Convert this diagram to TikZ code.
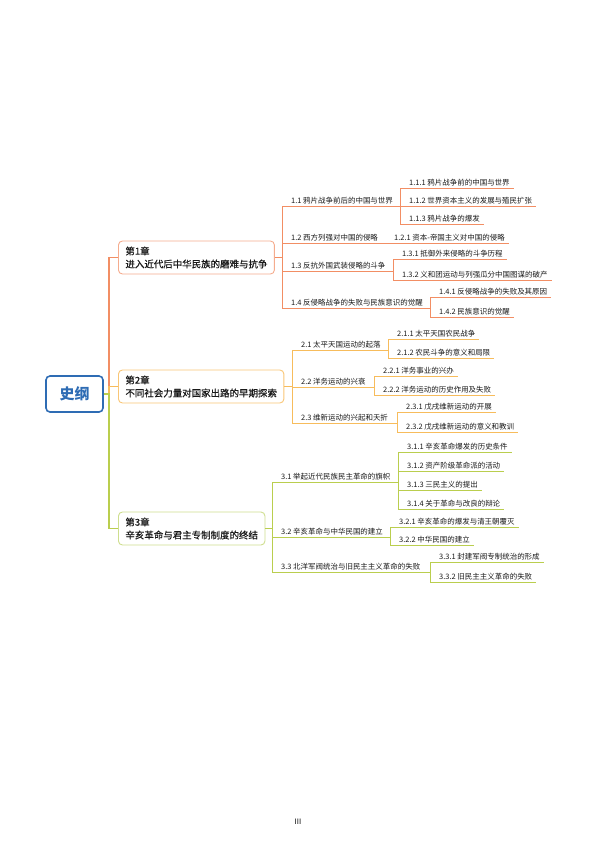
\documentclass[tikz,border=0pt]{standalone}
\usepackage{fontspec}
\setmainfont{Noto Sans CJK SC}
\newfontfamily\chapfont[FakeBold=0.6]{Noto Sans CJK SC}
\usetikzlibrary{positioning}

\definecolor{rootblue}{RGB}{46,108,180}
\definecolor{ch1line}{RGB}{242,142,100}
\definecolor{ch1box}{RGB}{245,172,142}
\definecolor{ch2line}{RGB}{247,188,92}
\definecolor{ch2box}{RGB}{249,198,118}
\definecolor{ch3line}{RGB}{186,206,78}
\definecolor{ch3box}{RGB}{206,222,142}

\begin{document}
\begin{tikzpicture}[
    x=1bp, y=-1bp,
    font=\fontsize{7.5}{9}\selectfont,
    % Node styles
    root/.style={draw=rootblue, line width=1.6bp, rounded corners=4bp, minimum width=57bp, minimum height=36bp, text=rootblue, font=\fontsize{15}{18}\selectfont\bfseries},
    chapter/.style={draw, line width=0.9bp, rounded corners=4bp, fill=white, align=left, anchor=west, inner xsep=7bp, minimum height=33bp, text=black!90, font=\fontsize{9.5}{13}\chapfont},
    topic/.style={anchor=south west, xshift=5bp, inner xsep=4bp, inner ysep=2bp, text=black!90},
    trunk/.style={line width=1.8bp},
    branch/.style={line width=1bp},
    twig/.style={line width=0.8bp},
]
    \useasboundingbox (0,0) rectangle (596,842);

    % Root and chapters
    \node[root] (root) at (74.5,394) {史纲};
    \node[chapter, draw=ch1box] (ch1) at (118,257.5) {第1章\\进入近代后中华民族的磨难与抗争};
    \node[chapter, draw=ch2box] (ch2) at (118,386.5) {第2章\\不同社会力量对国家出路的早期探索};
    \node[chapter, draw=ch3box] (ch3) at (118,528.5) {第3章\\辛亥革命与君主专制制度的终结};

    % Vertical lines (x only)
    \coordinate (t0) at (109,394);
    \coordinate (b1) at (282,0);
    \coordinate (b11) at (400,0);
    \coordinate (b12) at (385,0);
    \coordinate (b13) at (393,0);
    \coordinate (b14) at (430,0);
    \coordinate (b2) at (292,0);
    \coordinate (b21) at (388,0);
    \coordinate (b22) at (374,0);
    \coordinate (b23) at (397,0);
    \coordinate (b3) at (272,0);
    \coordinate (b31) at (398,0);
    \coordinate (b32) at (390,0);
    \coordinate (b33) at (430,0);

    % Chapter 1
    \node[topic] (s11) at (282,206) {1.1 鸦片战争前后的中国与世界};
    \node[topic] (s12) at (282,243) {1.2 西方列强对中国的侵略};
    \node[topic] (s13) at (282,271) {1.3 反抗外国武装侵略的斗争};
    \node[topic] (s14) at (282,308) {1.4 反侵略战争的失败与民族意识的觉醒};
    \node[topic] (l111) at (400,188) {1.1.1 鸦片战争前的中国与世界};
    \node[topic] (l112) at (400,206) {1.1.2 世界资本主义的发展与殖民扩张};
    \node[topic] (l113) at (400,224) {1.1.3 鸦片战争的爆发};
    \node[topic] (l121) at (385,243) {1.2.1 资本-帝国主义对中国的侵略};
    \node[topic] (l131) at (393,259) {1.3.1 抵御外来侵略的斗争历程};
    \node[topic] (l132) at (393,280) {1.3.2 义和团运动与列强瓜分中国图谋的破产};
    \node[topic] (l141) at (430,297) {1.4.1 反侵略战争的失败及其原因};
    \node[topic] (l142) at (430,317) {1.4.2 民族意识的觉醒};

    % Chapter 2
    \node[topic] (s21) at (292,350) {2.1 太平天国运动的起落};
    \node[topic] (s22) at (292,387) {2.2 洋务运动的兴衰};
    \node[topic] (s23) at (292,423) {2.3 维新运动的兴起和夭折};
    \node[topic] (l211) at (388,339) {2.1.1 太平天国农民战争};
    \node[topic] (l212) at (388,358) {2.1.2 农民斗争的意义和局限};
    \node[topic] (l221) at (374,376) {2.2.1 洋务事业的兴办};
    \node[topic] (l222) at (374,395) {2.2.2 洋务运动的历史作用及失败};
    \node[topic] (l231) at (397,412) {2.3.1 戊戌维新运动的开展};
    \node[topic] (l232) at (397,432) {2.3.2 戊戌维新运动的意义和教训};

    % Chapter 3
    \node[topic] (s31) at (272,482) {3.1 举起近代民族民主革命的旗帜};
    \node[topic] (s32) at (272,537) {3.2 辛亥革命与中华民国的建立};
    \node[topic] (s33) at (272,572) {3.3 北洋军阀统治与旧民主主义革命的失败};
    \node[topic] (l311) at (398,452) {3.1.1 辛亥革命爆发的历史条件};
    \node[topic] (l312) at (398,471) {3.1.2 资产阶级革命派的活动};
    \node[topic] (l313) at (398,490) {3.1.3 三民主义的提出};
    \node[topic] (l314) at (398,509) {3.1.4 关于革命与改良的辩论};
    \node[topic] (l321) at (390,527) {3.2.1 辛亥革命的爆发与清王朝覆灭};
    \node[topic] (l322) at (390,545) {3.2.2 中华民国的建立};
    \node[topic] (l331) at (430,562) {3.3.1 封建军阀专制统治的形成};
    \node[topic] (l332) at (430,582) {3.3.2 旧民主主义革命的失败};

    % Page number
    \node (pagenum) at (298,822) {III};

    % Trunk
    \draw[trunk, ch1line] (root.east) -- (t0) |- (ch1.west);
    \draw[trunk, ch2line] (root.east) -- (t0) |- (ch2.west);
    \draw[trunk, ch3line] (root.east) -- (t0) |- (ch3.west);

    % Chapter 1 connections
    \draw[branch, ch1line] (ch1.east) -- (ch1.east -| b1);
    \draw[branch, ch1line] (s11.south west -| b1) -- (s14.south west -| b1);
    \draw[twig, ch1line] (s11.south west -| b1) -- (s11.south west -| b11);
    \draw[twig, ch1line] (s12.south west -| b1) -- (s12.south west -| b12);
    \draw[twig, ch1line] (s13.south west -| b1) -- (s13.south west -| b13);
    \draw[twig, ch1line] (s14.south west -| b1) -- (s14.south west -| b14);
    \draw[twig, ch1line] (l111.south west -| b11) -- (l113.south west -| b11);
    \draw[twig, ch1line] (l131.south west -| b13) -- (l132.south west -| b13);
    \draw[twig, ch1line] (l141.south west -| b14) -- (l142.south west -| b14);
    \foreach \n/\b in {l111/b11, l112/b11, l113/b11, l121/b12, l131/b13, l132/b13, l141/b14, l142/b14}
        \draw[twig, ch1line] (\n.south west -| \b) -- (\n.south east);

    % Chapter 2 connections
    \draw[branch, ch2line] (ch2.east) -- (ch2.east -| b2);
    \draw[branch, ch2line] (s21.south west -| b2) -- (s23.south west -| b2);
    \draw[twig, ch2line] (s21.south west -| b2) -- (s21.south west -| b21);
    \draw[twig, ch2line] (s22.south west -| b2) -- (s22.south west -| b22);
    \draw[twig, ch2line] (s23.south west -| b2) -- (s23.south west -| b23);
    \draw[twig, ch2line] (l211.south west -| b21) -- (l212.south west -| b21);
    \draw[twig, ch2line] (l221.south west -| b22) -- (l222.south west -| b22);
    \draw[twig, ch2line] (l231.south west -| b23) -- (l232.south west -| b23);
    \foreach \n/\b in {l211/b21, l212/b21, l221/b22, l222/b22, l231/b23, l232/b23}
        \draw[twig, ch2line] (\n.south west -| \b) -- (\n.south east);

    % Chapter 3 connections
    \draw[branch, ch3line] (ch3.east) -- (ch3.east -| b3);
    \draw[branch, ch3line] (s31.south west -| b3) -- (s33.south west -| b3);
    \draw[twig, ch3line] (s31.south west -| b3) -- (s31.south west -| b31);
    \draw[twig, ch3line] (s32.south west -| b3) -- (s32.south west -| b32);
    \draw[twig, ch3line] (s33.south west -| b3) -- (s33.south west -| b33);
    \draw[twig, ch3line] (l311.south west -| b31) -- (l314.south west -| b31);
    \draw[twig, ch3line] (l321.south west -| b32) -- (l322.south west -| b32);
    \draw[twig, ch3line] (l331.south west -| b33) -- (l332.south west -| b33);
    \foreach \n/\b in {l311/b31, l312/b31, l313/b31, l314/b31, l321/b32, l322/b32, l331/b33, l332/b33}
        \draw[twig, ch3line] (\n.south west -| \b) -- (\n.south east);

\end{tikzpicture}
\end{document}
